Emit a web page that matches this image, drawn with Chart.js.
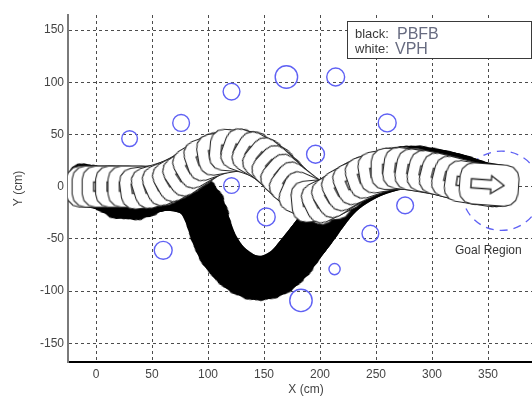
<!DOCTYPE html>
<html>
<head>
<meta charset="utf-8">
<script src="https://cdn.jsdelivr.net/npm/chart.js@4/dist/chart.umd.min.js"></script>
<style>
html,body{margin:0;padding:0;overflow:hidden;background:#fff}
canvas{display:block}
</style>
</head>
<body>
<canvas id="c" width="600" height="405" style="width:600px;height:405px"></canvas>
<script>
// Robot footprint centres along the VPH path (cm)
const vphX = [0,5,14,26,37,48,59,69,78,87,96,106,117,128,139,149,158,166,174,182,191,201,211,220,229,239,250,261,272,283,294,305,316,327,338,351];
const vphY = [0,0,0,0,0,0,3,7,12,18,25,30,33,34,31,26,19,11,3,-4,-11,-13,-9,-3,3,8,13,16,17,16,14,12,9,6,3,2];

// Robot footprint centres along the PBFB path (cm)
const pbfbX = [0,8,16,24,32,40,48,56,64,72,80,87,93,97,101,104,108,113,119,127,135,143,151,159,167,174,180,186,192,198,205,212,220,228,237,246,256,266,276,286,296,306,316,326,335,343,349];
const pbfbY = [-1,-3,-6,-9,-10,-8,-6,-4,-3,-4,-6,-10,-17,-26,-36,-46,-55,-64,-72,-79,-84,-86,-86,-83,-78,-71,-63,-55,-47,-38,-28,-18,-9,-2,4,9,13,16,18,18,17,15,13,10,7,4,3];

// Obstacles: centre and radius (cm)
const obstacleX = [30,76,121,121,170,214,260,196,60,152,276,245,213,183];
const obstacleY = [46,61,91,1,105,105,61,31,-61,-29,-18,-45,-79,-109];
const obstacleR = [7,7.5,7.5,7,10,8,8,8,8,8,7.5,7.5,5,10];

// Goal region (cm)
const goalCentre = [362, -4];
const goalRadius = 38;

// Axis ticks
const xTicks = [0,50,100,150,200,250,300,350];
const yTicks = [-150,-100,-50,0,50,100,150];

const BLUE = '#5f61f4';
const FONT = '"Liberation Sans", Arial, Helvetica, sans-serif';
Chart.defaults.font.family = FONT;

// Rounded robot outline with a heading arrow, used as a point style
function footprint(fill, stroke, withArrow) {
  const c = document.createElement('canvas');
  c.width = 64; c.height = 46;
  const g = c.getContext('2d');
  g.translate(32, 23);
  const a = 29.5, b = 20.5, r = 13;
  const corners = [[a - r, b - r, 0], [-a + r, b - r, 90], [-a + r, -b + r, 180], [a - r, -b + r, 270]];
  g.beginPath();
  corners.forEach(([cx, cy, start], k) => {
    for (let s = 0; s <= 3; s++) {
      const t = (start + s * 30) * Math.PI / 180;
      const px = cx + r * Math.cos(t), py = cy + r * Math.sin(t);
      if (k === 0 && s === 0) g.moveTo(px, py); else g.lineTo(px, py);
    }
  });
  g.closePath();
  g.fillStyle = fill; g.fill();
  g.lineWidth = 1.1; g.strokeStyle = stroke; g.stroke();
  if (withArrow) {
    g.beginPath();
    g.moveTo(-18, -4.5); g.lineTo(2, -4.5); g.lineTo(2, -9); g.lineTo(15, 0);
    g.lineTo(2, 9); g.lineTo(2, 4.5); g.lineTo(-18, 4.5); g.closePath();
    g.lineWidth = 1.4; g.stroke();
  }
  return c;
}
const whiteRobot = footprint('#ffffff', '#2a2a2a', true);
const blackRobot = footprint('#000000', '#000000', false);

// Heading of the robot at each footprint, from its neighbours on screen
function heading(ctx) {
  const d = ctx.dataset.data, i = ctx.dataIndex, s = ctx.chart.scales;
  if (i === undefined || !s.x) return 0;
  const p = d[Math.max(i - 1, 0)], n = d[Math.min(i + 1, d.length - 1)];
  const dx = s.x.getPixelForValue(n.x) - s.x.getPixelForValue(p.x);
  const dy = s.y.getPixelForValue(n.y) - s.y.getPixelForValue(p.y);
  return Math.atan2(dy, dx) * 180 / Math.PI;
}

const toPoints = (xs, ys) => xs.map((x, i) => ({ x, y: ys[i] }));

// Dashed goal circle, drawn beneath the footprints
const goalPlugin = {
  id: 'goal',
  beforeDatasetsDraw(chart) {
    const { ctx, scales: { x, y } } = chart;
    const px = x.getPixelForValue(goalCentre[0]);
    const py = y.getPixelForValue(goalCentre[1]);
    const r = Math.abs(y.getPixelForValue(goalRadius) - y.getPixelForValue(0));
    ctx.save();
    ctx.strokeStyle = BLUE; ctx.lineWidth = 1.3;
    ctx.setLineDash([8, 6]);
    ctx.beginPath(); ctx.arc(px, py, r, 0, Math.PI * 2); ctx.stroke();
    ctx.restore();
  }
};

// Goal label and the text box naming the two planners
const notesPlugin = {
  id: 'notes',
  afterDraw(chart) {
    const { ctx, scales: { x, y } } = chart;
    ctx.save();
    ctx.fillStyle = '#333';
    ctx.font = '12px ' + FONT;
    ctx.textAlign = 'left'; ctx.textBaseline = 'middle';
    ctx.fillText('Goal Region', x.getPixelForValue(320.5), y.getPixelForValue(-61));

    ctx.fillStyle = '#fff';
    ctx.fillRect(347.5, 21.5, 184, 37);
    ctx.strokeStyle = '#3a3a3a'; ctx.lineWidth = 1;
    ctx.strokeRect(347.5, 21.5, 184, 37);
    ctx.textBaseline = 'alphabetic';
    ctx.fillStyle = '#3a3a3a';
    ctx.font = '13px ' + FONT;
    ctx.fillText('black:', 355, 38);
    ctx.fillText('white:', 355, 53);
    ctx.fillStyle = '#676b80';
    ctx.font = '16px ' + FONT;
    ctx.fillText('PBFB', 397, 39);
    ctx.fillText('VPH', 395, 54);
    ctx.restore();
  }
};

new Chart(document.getElementById('c'), {
  type: 'scatter',
  data: {
    datasets: [
      {
        label: 'obstacles',
        data: obstacleX.map((x, i) => ({ x, y: obstacleY[i], r: obstacleR[i] })),
        pointStyle: 'circle',
        pointRadius: ctx => {
          const s = ctx.chart.scales.x;
          if (!s || !ctx.raw) return 8;
          return Math.abs(s.getPixelForValue(ctx.raw.r) - s.getPixelForValue(0));
        },
        pointBackgroundColor: 'rgba(0,0,0,0)',
        pointBorderColor: BLUE,
        pointBorderWidth: 1.4
      },
      {
        label: 'VPH',
        data: toPoints(vphX, vphY),
        pointStyle: whiteRobot,
        pointRadius: 1,
        pointRotation: heading
      },
      {
        label: 'PBFB',
        data: toPoints(pbfbX, pbfbY),
        pointStyle: blackRobot,
        pointRadius: 1,
        pointRotation: heading
      }
    ]
  },
  options: {
    responsive: false,
    animation: false,
    events: [],
    layout: { padding: { left: 0, top: 15, right: 56, bottom: 0 } },
    plugins: { legend: { display: false }, tooltip: { enabled: false } },
    scales: {
      x: {
        type: 'linear',
        min: -25, max: 400,
        afterBuildTicks: s => { s.ticks = xTicks.map(v => ({ value: v })); },
        afterFit: s => { s.height = 43; },
        grid: { color: 'rgba(0,0,0,0.7)', lineWidth: 1, drawTicks: false },
        border: { display: true, color: '#000', width: 2, dash: [3, 3] },
        ticks: { color: '#444', font: { size: 12 }, padding: 5, autoSkip: false, maxRotation: 0, callback: v => String(v) },
        title: { display: true, text: 'X (cm)', color: '#444', font: { size: 12 }, padding: { top: 0, bottom: 8 } }
      },
      y: {
        type: 'linear',
        min: -168, max: 164.4,
        afterBuildTicks: s => { s.ticks = yTicks.map(v => ({ value: v })); },
        afterFit: s => { s.width = 68; },
        grid: { color: 'rgba(0,0,0,0.7)', lineWidth: 1, drawTicks: false },
        border: { display: true, color: '#7a7a7a', width: 2, dash: [3, 3] },
        ticks: { color: '#444', font: { size: 12 }, padding: 4, autoSkip: false, callback: v => String(v) },
        title: { display: true, text: 'Y (cm)', color: '#444', font: { size: 12 }, padding: { top: 11, bottom: 0 } }
      }
    }
  },
  plugins: [goalPlugin, notesPlugin]
});
</script>
</body>
</html>
